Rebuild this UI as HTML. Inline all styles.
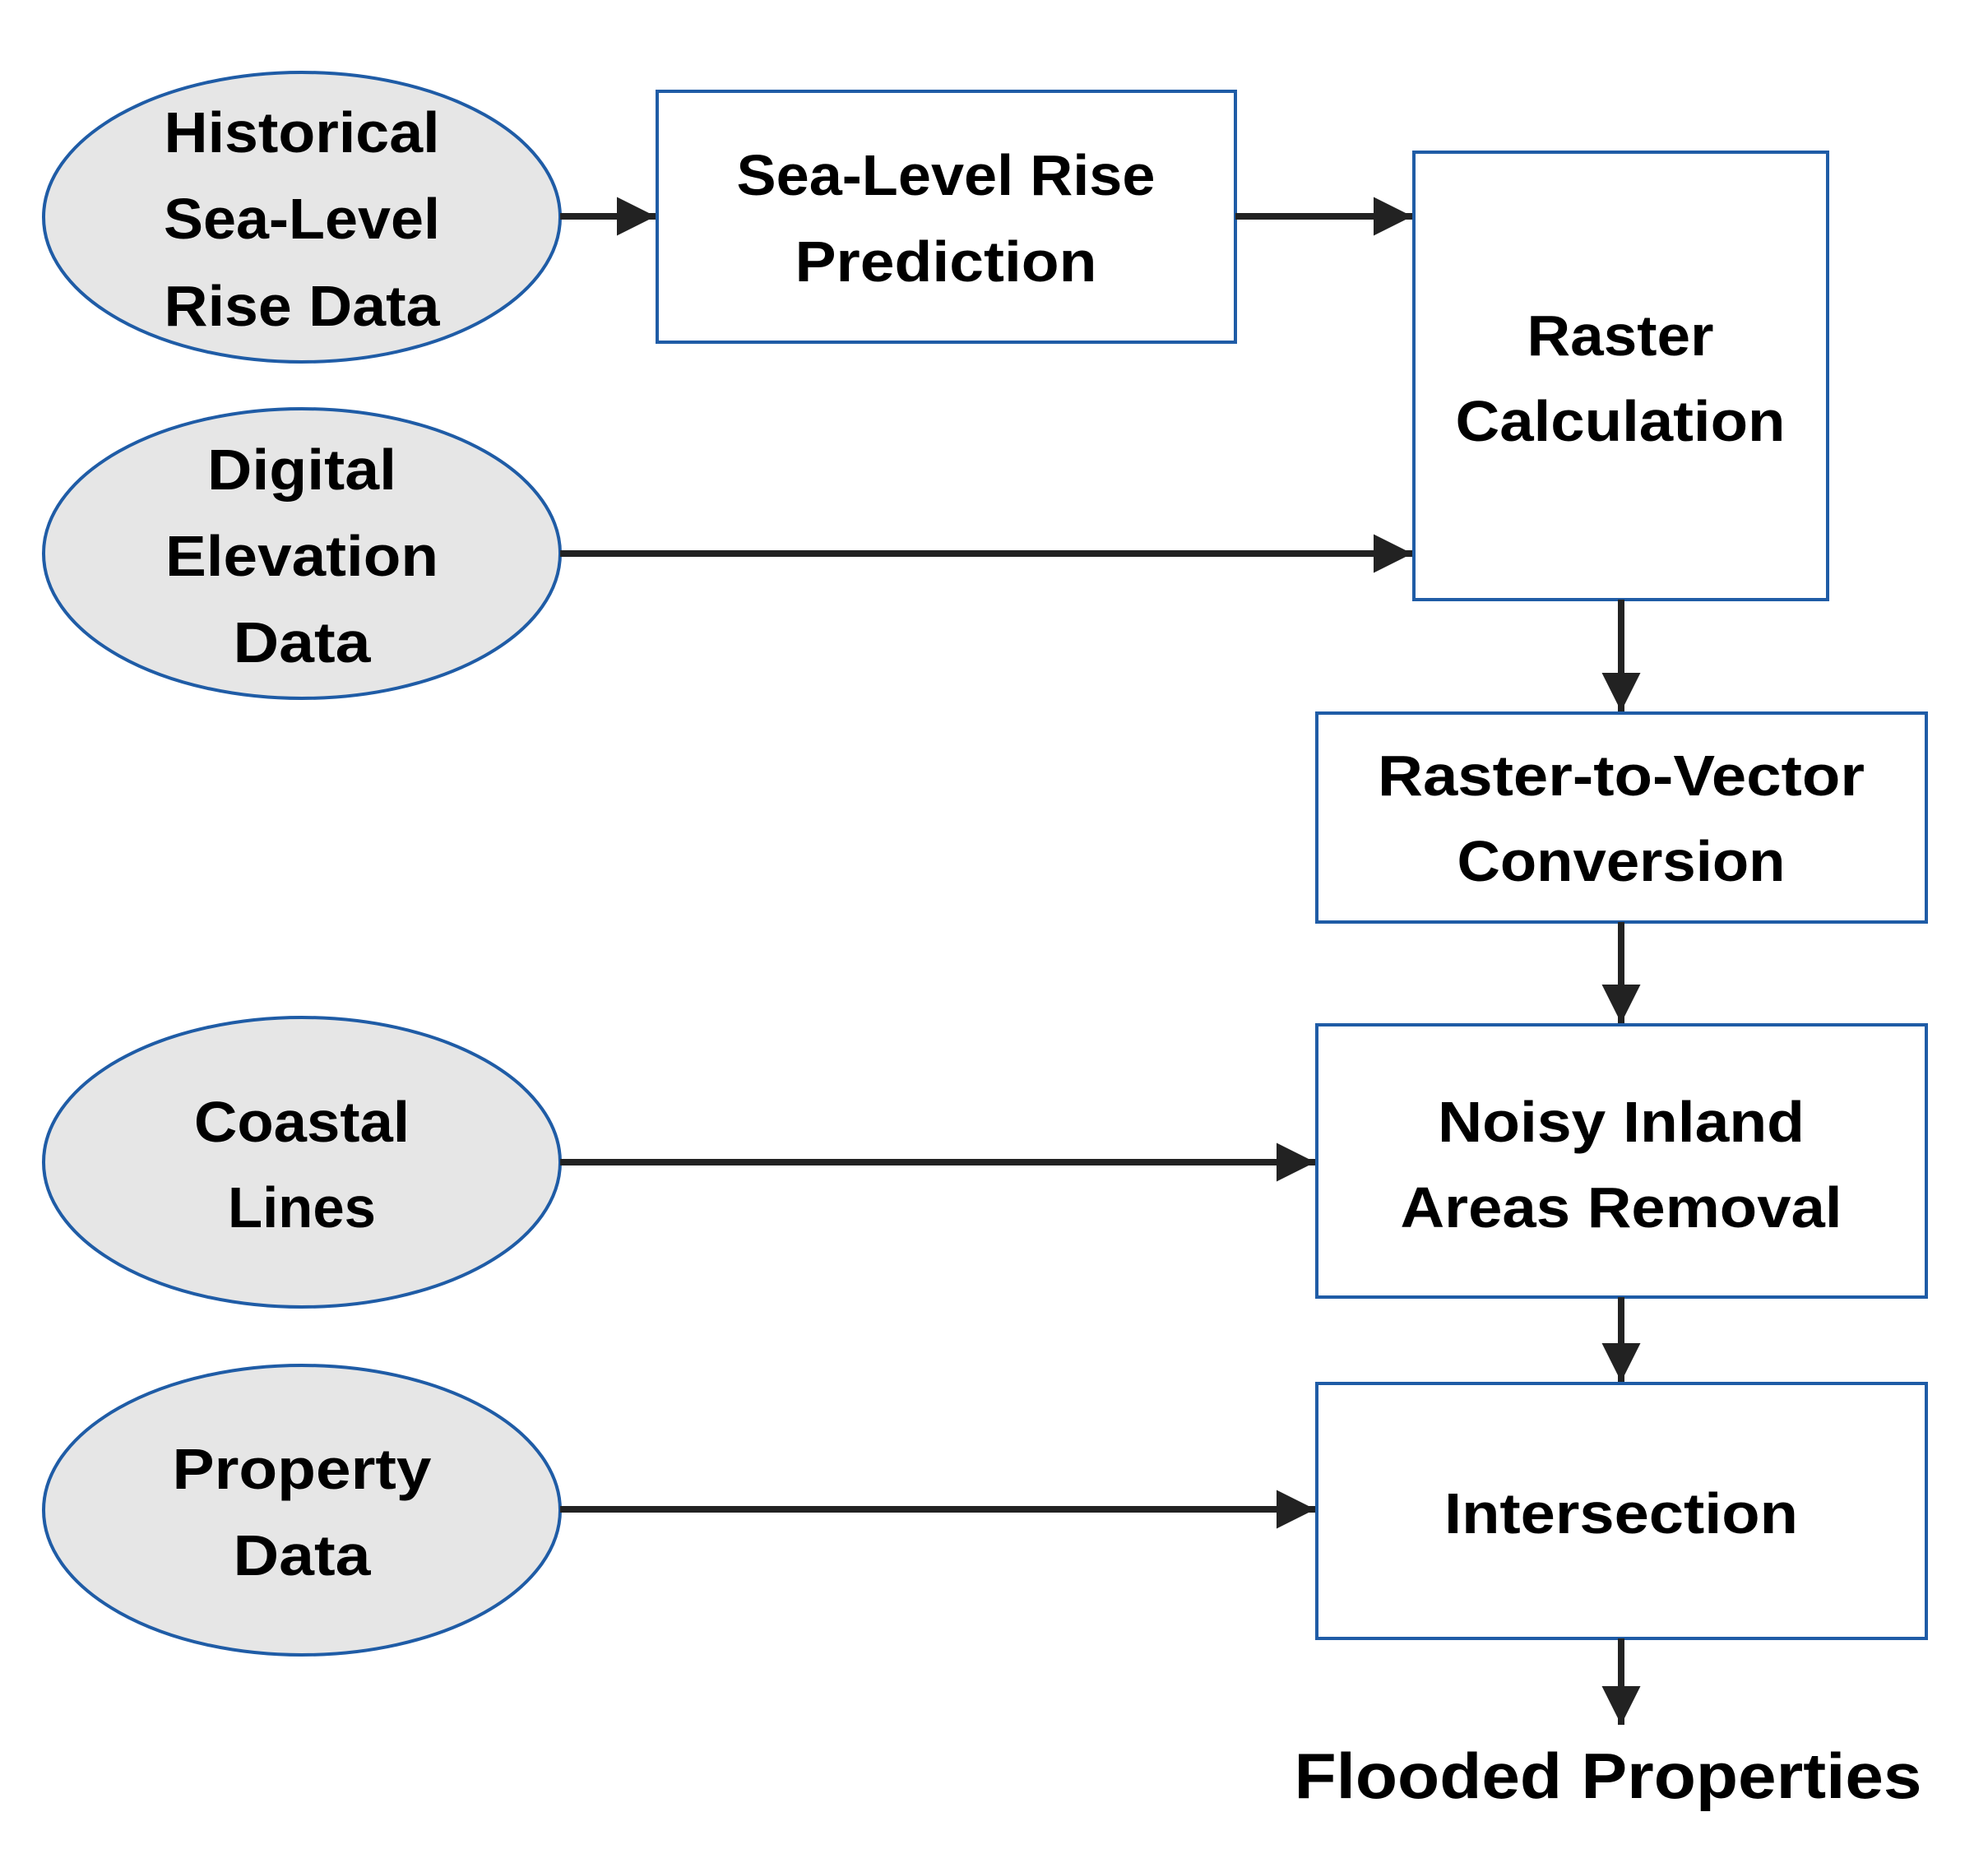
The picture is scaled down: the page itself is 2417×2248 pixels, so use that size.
<!DOCTYPE html>
<html><head><meta charset="utf-8"><style>
html,body{margin:0;padding:0;background:#fff;}
svg{display:block;}
text{font-family:"Liberation Sans",sans-serif;font-weight:bold;fill:#000;text-anchor:middle;font-size:70px;}
</style></head><body>
<svg width="2417" height="2248" viewBox="0 0 2417 2248" xmlns="http://www.w3.org/2000/svg">
<defs>
<marker id="ah" markerWidth="47" markerHeight="47" viewBox="0 0 47 47" refX="47" refY="23.5" markerUnits="userSpaceOnUse" orient="auto">
<path d="M0,0 L47,23.5 L0,47 Z" fill="#222"/>
</marker>
</defs>
<g fill="#e6e6e6" stroke="#1f5ca6" stroke-width="4">
<ellipse cx="367" cy="264" rx="314" ry="176"/>
<ellipse cx="367" cy="673" rx="314" ry="176"/>
<ellipse cx="367" cy="1413" rx="314" ry="176"/>
<ellipse cx="367" cy="1836" rx="314" ry="176"/>
</g>
<g fill="#fff" stroke="#1f5ca6" stroke-width="4">
<rect x="799" y="111" width="703" height="305"/>
<rect x="1719" y="185" width="503" height="544"/>
<rect x="1601" y="867" width="741" height="254"/>
<rect x="1601" y="1246" width="741" height="331"/>
<rect x="1601" y="1682" width="741" height="310"/>
</g>
<g stroke="#222" stroke-width="8" marker-end="url(#ah)">
<line x1="681" y1="263" x2="797" y2="263"/>
<line x1="1502" y1="263" x2="1717" y2="263"/>
<line x1="681" y1="673" x2="1717" y2="673"/>
<line x1="681" y1="1413" x2="1599" y2="1413"/>
<line x1="681" y1="1835" x2="1599" y2="1835"/>
<line x1="1971" y1="729" x2="1971" y2="865"/>
<line x1="1971" y1="1121" x2="1971" y2="1244"/>
<line x1="1971" y1="1577" x2="1971" y2="1680"/>
<line x1="1971" y1="1992" x2="1971" y2="2097"/>
</g>
<text x="367" y="185" textLength="335" lengthAdjust="spacingAndGlyphs">Historical</text>
<text x="367" y="290" textLength="336" lengthAdjust="spacingAndGlyphs">Sea-Level</text>
<text x="367" y="396" textLength="335" lengthAdjust="spacingAndGlyphs">Rise Data</text>
<text x="1150" y="237" textLength="509" lengthAdjust="spacingAndGlyphs">Sea-Level Rise</text>
<text x="1150" y="342" textLength="367" lengthAdjust="spacingAndGlyphs">Prediction</text>
<text x="1970" y="432" textLength="227" lengthAdjust="spacingAndGlyphs">Raster</text>
<text x="1970" y="536" textLength="401" lengthAdjust="spacingAndGlyphs">Calculation</text>
<text x="367" y="595" textLength="230" lengthAdjust="spacingAndGlyphs">Digital</text>
<text x="367" y="700" textLength="332" lengthAdjust="spacingAndGlyphs">Elevation</text>
<text x="367" y="805" textLength="167" lengthAdjust="spacingAndGlyphs">Data</text>
<text x="1971" y="967" textLength="592" lengthAdjust="spacingAndGlyphs">Raster-to-Vector</text>
<text x="1971" y="1071" textLength="399" lengthAdjust="spacingAndGlyphs">Conversion</text>
<text x="1971" y="1388" textLength="446" lengthAdjust="spacingAndGlyphs">Noisy Inland</text>
<text x="1971" y="1492" textLength="537" lengthAdjust="spacingAndGlyphs">Areas Removal</text>
<text x="1971" y="1864" textLength="430" lengthAdjust="spacingAndGlyphs">Intersection</text>
<text x="367" y="1388" textLength="262" lengthAdjust="spacingAndGlyphs">Coastal</text>
<text x="367" y="1492" textLength="180" lengthAdjust="spacingAndGlyphs">Lines</text>
<text x="367" y="1810" textLength="315" lengthAdjust="spacingAndGlyphs">Property</text>
<text x="367" y="1915" textLength="167" lengthAdjust="spacingAndGlyphs">Data</text>
<text x="1955" y="2186" style="font-size:78px" textLength="763" lengthAdjust="spacingAndGlyphs">Flooded Properties</text>
</svg>
</body></html>
